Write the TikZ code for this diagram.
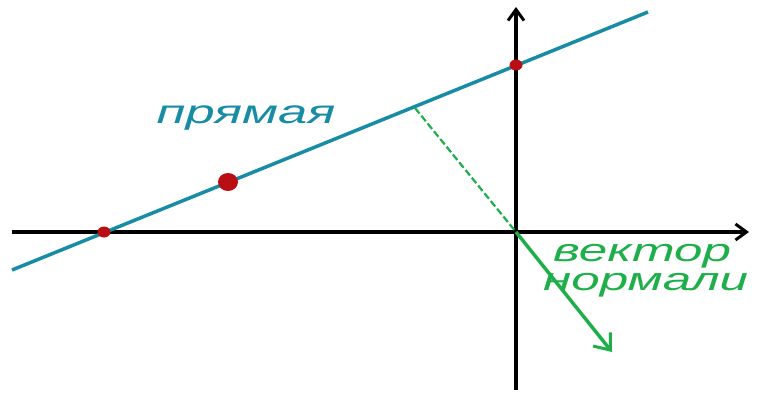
\documentclass[tikz,border=0pt]{standalone}
\usepackage{fontspec}
\usepackage{graphicx}
\setmainfont{Liberation Sans}
\usetikzlibrary{arrows.meta,shapes.geometric}
\definecolor{lineblue}{RGB}{25,140,165}
\definecolor{normgreen}{RGB}{30,175,75}
\definecolor{ptred}{RGB}{185,15,20}
\tikzset{
  axisline/.style={line width=3.5pt, black, -{Straight Barb[length=11pt,width=16pt,line width=3pt]}},
  mainline/.style={line width=3.5pt, lineblue},
  normline/.style={line width=3.5pt, normgreen, -{Straight Barb[length=14pt,width=22pt,line width=3pt]}},
  perpline/.style={line width=2.2pt, normgreen, dash pattern=on 7pt off 3pt},
  smalldot/.style={fill=ptred, ellipse, inner sep=0pt, minimum width=13pt, minimum height=11pt},
  bigdot/.style={fill=ptred, ellipse, inner sep=0pt, minimum width=20pt, minimum height=18pt},
  bluetext/.style={text=lineblue, font=\fontsize{33}{40}\selectfont\itshape, inner sep=0pt, anchor=base},
  greentext/.style={text=normgreen, font=\fontsize{32}{29}\selectfont\itshape, inner sep=0pt, align=left, anchor=base west},
}
\begin{document}
\begin{tikzpicture}[x=1pt,y=-1pt]
\useasboundingbox (0,0) rectangle (760,393);
\coordinate (xs) at (12,232);
\coordinate (xe) at (749,232);
\coordinate (ys) at (516,390);
\coordinate (ye) at (516,7);
\coordinate (ls) at (12,270);
\coordinate (le) at (648,12);
\coordinate (foot) at (415,108);
\coordinate (O) at (516,232);
\coordinate (ntip) at (612,352);
\draw[axisline] (xs) -- (xe);
\draw[axisline] (ys) -- (ye);
\draw[mainline] (ls) -- (le);
\draw[perpline] (foot) -- (O);
\draw[normline] (O) -- (ntip);
\node[smalldot] (p1) at (104,232) {};
\node[smalldot] (p2) at (516,65) {};
\node[bigdot] (p3) at (228,182) {};
\node[bluetext] (lbl) at (246,124) {\scalebox{1.59}[1]{прямая}};
\node[greentext] (vn) at (543,290) {\hspace*{10pt}\scalebox{1.6}[1]{вектор}\\\scalebox{1.6}[1]{нормали}};
\end{tikzpicture}
\end{document}
